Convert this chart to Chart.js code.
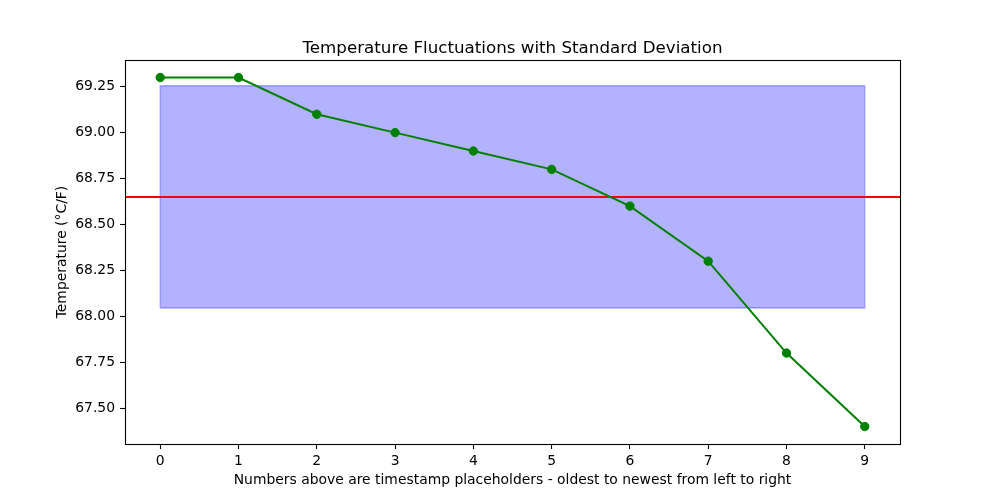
<!DOCTYPE html>
<html><head><meta charset="utf-8">
<script src="https://cdn.jsdelivr.net/npm/chart.js@4/dist/chart.umd.min.js"></script>
<style>html,body{margin:0;padding:0;background:#fff}#wrap{width:1000px;height:500px}</style>
</head><body><div id="wrap"><canvas id="c" width="1000" height="500"></canvas></div>
<script>
const timestamps = [0, 1, 2, 3, 4, 5, 6, 7, 8, 9];
const temperatures = [69.3, 69.3, 69.1, 69.0, 68.9, 68.8, 68.6, 68.3, 67.8, 67.4];
const meanTemp = 68.65;
const bandLower = 68.045;
const bandUpper = 69.255;
const bandStart = 0;
const bandEnd = 9;
const yTickValues = [67.5, 67.75, 68.0, 68.25, 68.5, 68.75, 69.0, 69.25];
const xRange = [-0.45, 9.45];
const yRange = [67.305, 69.395];

const FONT = 'DejaVu Sans';
const tickFont = {family: FONT, size: 13.9};

const frame = {
  id: 'frame',
  afterDraw(chart) {
    const a = chart.chartArea, ctx = chart.ctx;
    ctx.save();
    ctx.strokeStyle = '#000';
    ctx.lineWidth = 1.1;
    ctx.strokeRect(Math.round(a.left) + 0.5, Math.round(a.top) + 0.5, Math.round(a.right - a.left), Math.round(a.bottom - a.top));
    ctx.restore();
  }
};

new Chart(document.getElementById('c'), {
  type: 'line',
  data: {
    datasets: [
      {
        label: 'Temperature',
        data: timestamps.map((t, i) => ({x: t, y: temperatures[i]})),
        borderColor: '#008000',
        backgroundColor: '#008000',
        borderWidth: 2,
        pointRadius: 4.2,
        pointBackgroundColor: '#008000',
        pointBorderColor: '#008000',
        pointBorderWidth: 1,
        fill: false,
        tension: 0
      },
      {
        label: 'Mean',
        data: [{x: xRange[0], y: meanTemp}, {x: xRange[1], y: meanTemp}],
        borderColor: '#ff0000',
        borderWidth: 2,
        pointRadius: 0,
        fill: false
      },
      {
        label: 'Std outline',
        data: [
          {x: bandStart, y: bandLower}, {x: bandStart, y: bandUpper},
          {x: bandEnd, y: bandUpper}, {x: bandEnd, y: bandLower},
          {x: bandStart, y: bandLower}
        ],
        borderColor: 'rgba(0,0,255,0.3)',
        borderWidth: 1.4,
        pointRadius: 0,
        fill: false
      },
      {
        label: 'Std band',
        data: [{x: bandStart, y: bandUpper}, {x: bandEnd, y: bandUpper}],
        borderWidth: 0,
        borderColor: 'rgba(0,0,0,0)',
        backgroundColor: 'rgba(0,0,255,0.3)',
        pointRadius: 0,
        fill: {value: bandLower}
      }
    ]
  },
  options: {
    responsive: false,
    animation: false,
    devicePixelRatio: 1,
    layout: {padding: {left: 0, right: 100, top: 0, bottom: 0}},
    plugins: {
      legend: {display: false},
      tooltip: {enabled: false},
      title: {
        display: true,
        text: 'Temperature Fluctuations with Standard Deviation',
        fullSize: false,
        color: '#000',
        font: {family: FONT, size: 16.7, weight: 'normal'},
        padding: {top: 39, bottom: 1}
      }
    },
    scales: {
      x: {
        type: 'linear',
        min: xRange[0],
        max: xRange[1],
        afterBuildTicks: s => { s.ticks = timestamps.map(v => ({value: v})); },
        afterFit: s => { s.height = 56; s.paddingLeft = 0; s.paddingRight = 0; },
        ticks: {color: '#000', font: tickFont, padding: 4, maxRotation: 0, autoSkip: false, callback: v => String(v)},
        grid: {display: true, drawOnChartArea: false, drawTicks: true, tickLength: 5, tickColor: '#000', tickWidth: 1.1},
        border: {display: false},
        title: {display: true, text: 'Numbers above are timestamp placeholders - oldest to newest from left to right', color: '#000', font: tickFont, padding: {top: 0, bottom: 11}}
      },
      y: {
        type: 'linear',
        min: yRange[0],
        max: yRange[1],
        afterBuildTicks: s => { s.ticks = yTickValues.map(v => ({value: v})); },
        afterFit: s => { s.width = 125; s.paddingTop = 0; s.paddingBottom = 0; },
        ticks: {color: '#000', font: tickFont, padding: 5, autoSkip: false, callback: v => Number(v).toFixed(2)},
        grid: {display: true, drawOnChartArea: false, drawTicks: true, tickLength: 5, tickColor: '#000', tickWidth: 1.1},
        border: {display: false},
        title: {display: true, text: 'Temperature (°C/F)', color: '#000', font: tickFont, padding: {top: 54, bottom: 0}}
      }
    }
  },
  plugins: [frame]
});
</script>
</body></html>
